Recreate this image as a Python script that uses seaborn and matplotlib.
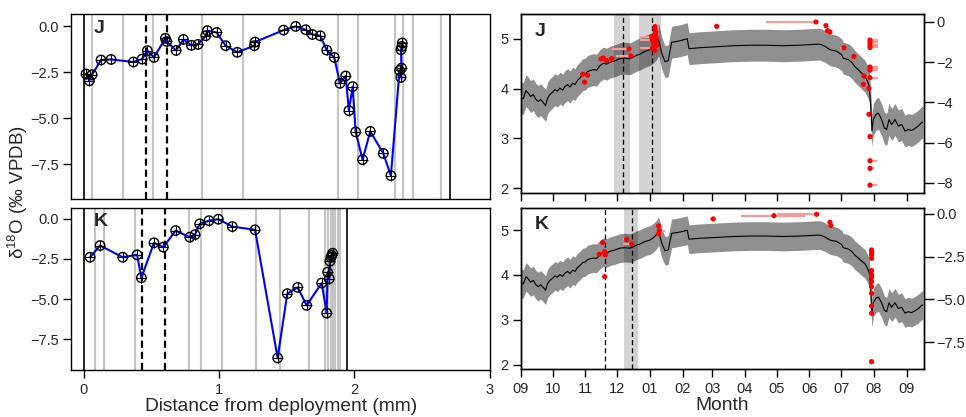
import numpy as np
import pandas as pd
import matplotlib
matplotlib.use("Agg")
import matplotlib.pyplot as plt
from matplotlib.ticker import FuncFormatter
import seaborn as sns

sns.set_style("ticks")
plt.rcParams["font.family"] = ["Liberation Sans", "DejaVu Sans"]
plt.rcParams["mathtext.fontset"] = "custom"
plt.rcParams["mathtext.rm"] = "Liberation Sans"
plt.rcParams["mathtext.default"] = "regular"

# ---------------- data: distance panels ----------------
j_dist = [0.018, 0.043, 0.063, 0.129, 0.203, 0.368, 0.432, 0.471, 0.520, 0.604, 0.614,
          0.683, 0.737, 0.796, 0.845, 0.902, 0.914, 0.983, 1.049, 1.135, 1.261, 1.266,
          1.477, 1.566, 1.640, 1.689, 1.748, 1.795, 1.851, 1.893, 1.935, 1.959, 1.987,
          2.009, 2.060, 2.117, 2.213, 2.269, 2.333, 2.343, 2.348, 2.343, 2.350, 2.353]
j_d18o = [-2.59, -2.96, -2.63, -1.83, -1.80, -1.94, -1.78, -1.32, -1.69, -0.65, -0.82,
          -1.31, -0.71, -1.03, -0.98, -0.51, -0.23, -0.33, -1.05, -1.41, -1.05, -0.85,
          -0.20, 0.00, -0.18, -0.44, -0.51, -1.29, -1.69, -3.10, -2.70, -4.59, -3.28,
          -5.75, -7.26, -5.72, -6.92, -8.13, -2.40, -2.78, -2.27, -1.27, -1.09, -0.90]
j_gray = [0.065, 0.294, 0.511, 0.872, 1.175, 1.881, 2.028, 2.299, 2.358, 2.431, 2.637]
j_dash = [0.461, 0.619]
j_end = 2.705

k_dist = [0.048, 0.122, 0.289, 0.395, 0.427, 0.520, 0.589, 0.680, 0.784, 0.823, 0.857,
          0.926, 0.995, 1.098, 1.266, 1.433, 1.504, 1.581, 1.647, 1.758, 1.795, 1.802,
          1.814, 1.819, 1.826, 1.832, 1.839]
k_d18o = [-2.39, -1.66, -2.39, -2.24, -3.67, -1.49, -1.76, -0.73, -1.14, -0.98, -0.31,
          -0.11, -0.02, -0.48, -0.68, -8.67, -4.66, -4.27, -5.39, -4.00, -5.87, -3.32,
          -3.73, -2.64, -2.40, -2.28, -2.14]
k_gray = [0.085, 0.154, 0.380, 0.776, 0.865, 1.020, 1.271, 1.450, 1.667, 1.782, 1.807,
          1.824, 1.839, 1.858, 1.876, 1.893]
k_dash = [0.432, 0.601]
k_end = 1.942

dist_ticks = [0, 1, 2, 3]
d18o_ticks = [0.0, -2.5, -5.0, -7.5]

# ---------------- data: time panels (days since 1 Sep) ----------------
curve_day = [0, 2.2, 4.7, 6.9, 9.1, 11.7, 14.2, 16.4, 18.6, 21.1, 23.3, 25.2, 27.4, 30.0,
             32.2, 34.4, 36.9, 39.4, 41.6, 44.2, 46.4, 48.9, 51.1, 53.3, 55.8, 58.4, 60.9,
             62.8, 65.3, 68.5, 71.6, 74.8, 77.9, 81.1, 84.2, 89.0, 93.7, 98.4, 103.2, 106.3,
             109.5, 112.6, 115.8, 118.9, 122.1, 125.2, 127.8, 130.3, 133.1, 136.3, 139.4,
             141.0, 142.6, 145.7, 150.5, 157.4, 159.0, 169.4, 185.2, 200.9, 216.7, 232.5,
             248.3, 264.0, 279.8, 283.0, 287.7, 292.4, 298.7, 303.5, 305.0, 309.8, 312.9,
             316.1, 319.2, 322.4, 325.5, 327.7, 329.6, 330.9, 332.2, 333.4, 336.0, 338.2,
             341.3, 343.9, 346.1, 348.3, 350.8, 354.0, 357.1, 360.3, 363.4, 366.6, 369.7,
             372.9, 376.0, 379.2, 380.3]
curve_val = [3.81, 3.80, 3.96, 3.91, 3.84, 3.88, 3.78, 3.74, 3.78, 3.72, 3.66, 3.81, 3.88,
             3.93, 3.98, 3.95, 4.01, 3.97, 4.04, 4.08, 4.03, 4.11, 4.08, 4.16, 4.21, 4.28,
             4.29, 4.34, 4.36, 4.38, 4.37, 4.46, 4.51, 4.49, 4.53, 4.56, 4.60, 4.61, 4.60,
             4.63, 4.67, 4.69, 4.73, 4.76, 4.78, 4.83, 4.89, 4.98, 4.72, 4.54, 4.56, 4.75,
             4.93, 4.94, 4.96, 5.00, 4.80, 4.82, 4.84, 4.86, 4.87, 4.87, 4.86, 4.87, 4.89,
             4.89, 4.85, 4.78, 4.75, 4.68, 4.61, 4.58, 4.53, 4.44, 4.38, 4.31, 4.25, 4.16,
             4.05, 3.68, 3.15, 3.38, 3.48, 3.51, 3.38, 3.21, 3.18, 3.38, 3.28, 3.38, 3.25,
             3.28, 3.15, 3.18, 3.16, 3.20, 3.25, 3.32, 3.33]
curve_halfwidth = 0.32

jt_day = [58.4, 60.2, 63.1, 75.7, 77.9, 81.1, 85.8, 102.2, 104.1, 123.7, 124.3, 124.3,
          125.9, 126.8, 126.8, 127.1, 127.5, 128.1, 127.5, 126.8, 128.7, 185.2, 279.2,
          288.6, 290.2, 292.4, 305.7, 315.1, 324.6, 324.0, 329.3, 329.3, 330.3, 330.3,
          330.3, 330.3, 330.3, 330.3, 330.3, 330.3, 330.3, 330.3, 330.3, 330.3]
jt_val = [-2.60, -2.99, -2.65, -1.84, -1.79, -1.92, -1.82, -1.34, -1.69, -0.73, -0.90,
          -1.31, -1.13, -0.23, -0.35, -0.48, -0.61, -0.81, -0.99, -1.42, -1.16, -0.22,
          0.00, -0.18, -0.43, -0.50, -1.28, -1.72, -2.69, -3.10, -3.30, -4.59, -5.70,
          -0.90, -1.02, -1.16, -1.27, -2.24, -2.32, -2.40, -2.77, -6.90, -7.28, -8.11]
jt_err_lo = [0, 0, 0, 0, 0, 0, 0, 15.8, 14.2, 11.7, 12.0, 12.0, 0, 0, 0, 0, 0, 0, 0, 0,
             0, 0, 47.3, 0, 0, 0, 3.8, 0, 0, 0, 0, 0, 0, 0, 0, 0, 0, 0, 0, 0, 0, 0, 0, 0]
jt_err_hi = [0, 0, 0, 0, 0, 0, 0, 0, 0, 0, 3, 0, 3, 4, 4, 3, 3, 2, 2, 0, 0, 0, 0, 0, 0,
             2, 0, 0, 0, 0, 0, 0, 2, 7.9, 7.9, 7.9, 7.9, 7.9, 7.9, 7.9, 7.9, 6.3, 4.0, 6.3]

kt_day = [74.1, 77.3, 79.2, 79.5, 79.8, 79.2, 100.0, 104.7, 130.3, 130.9, 130.3, 182.0,
          239.4, 279.8, 292.4, 293.3, 331.8, 331.8, 331.8, 331.8, 331.8, 331.8, 331.8,
          331.8, 331.8, 331.8, 331.8, 331.8, 331.8, 331.8]
kt_val = [-2.36, -1.68, -2.21, -2.30, -2.40, -3.67, -1.48, -1.76, -0.70, -0.98, -1.17,
          -0.29, -0.10, -0.02, -0.49, -0.68, -2.11, -2.21, -2.30, -2.40, -2.60, -3.32,
          -3.57, -3.71, -3.96, -4.26, -4.65, -5.39, -5.82, -8.65]
kt_err_lo = [0, 0, 0, 0, 0, 0, 3.8, 7.9, 0, 0, 0, 3.2, 30.9, 37.9, 0, 0, 0, 0, 0, 0, 0,
             0, 0, 0, 0, 0, 0, 0, 0, 0]
kt_err_hi = [0, 0, 0, 0, 0, 0, 0, 0, 0, 5.4, 0, 0, 29.3, 0, 0, 0, 0, 0, 0, 0, 0, 0, 0,
             0, 0, 0, 0, 0, 0, 0]

j_spans = [(88.0, 102.9), (112.0, 132.5)]
j_tdash = [96.2, 124.3]
k_spans = [(97.5, 110.4)]
k_tdash = [79.5, 104.7]

month_starts = pd.date_range("2013-09-01", "2014-09-01", freq="MS")
month_day = [(m - month_starts[0]).days for m in month_starts]
month_lab = [m.strftime("%m") for m in month_starts]

left_ticks = [2, 3, 4, 5]
jt_ticks = [0, -2, -4, -6, -8]
kt_ticks = [0.0, -2.5, -5.0, -7.5]

# ---------------- figure ----------------
fig = plt.figure(figsize=(9.66, 4.17), dpi=100)
axJ = fig.add_axes([0.0740, 0.5221, 0.4337, 0.4436])
axK = fig.add_axes([0.0740, 0.1127, 0.4337, 0.3878])
axJt = fig.add_axes([0.5393, 0.5364, 0.4172, 0.4293])
axKt = fig.add_axes([0.5393, 0.1151, 0.4172, 0.3854])

minus = lambda s: s.replace("-", "\u2212")
fmt1 = FuncFormatter(lambda v, p: minus(f"{v:.1f}"))
fmt0 = FuncFormatter(lambda v, p: minus(f"{v:.0f}"))

TICK = 10.5


def style_spines(ax):
    for s in ax.spines.values():
        s.set_color("black")
        s.set_linewidth(1.0)
        s.set_visible(True)


def left_panel(ax, dist, vals, gray, dash, end, label, show_x):
    for g in gray:
        ax.axvline(g, color="#c4c4c4", lw=1.5, zorder=0)
    ax.axvline(0, color="black", lw=1.2, zorder=1)
    ax.axvline(end, color="black", lw=1.2, zorder=1)
    for d in dash:
        ax.axvline(d, color="black", lw=1.6, ls=(0, (3.2, 1.8)), zorder=1)
    df = pd.DataFrame({"dist": dist, "d18o": vals})
    sns.lineplot(data=df, x="dist", y="d18o", sort=False, estimator=None,
                 color="blue", lw=1.5, ax=ax, zorder=2)
    ax.scatter(df["dist"], df["d18o"], s=46, facecolors="none", edgecolors="black",
               linewidths=1.0, zorder=3)
    ax.scatter(df["dist"], df["d18o"], s=46, marker="+", color="black",
               linewidths=0.8, zorder=3)
    ax.set_xlim(-0.089, 3.004)
    ax.set_ylim(-9.42, 0.66)
    ax.set_yticks(d18o_ticks)
    ax.yaxis.set_major_formatter(fmt1)
    ax.set_xticks(dist_ticks)
    ax.set_xlabel("")
    ax.set_ylabel("")
    ax.tick_params(axis="both", direction="out", length=6, width=1, labelsize=TICK,
                   color="black", pad=3)
    if not show_x:
        ax.tick_params(axis="x", bottom=False, labelbottom=False)
    ax.text(0.052, 0.968, label, transform=ax.transAxes, fontsize=14,
            fontweight="bold", va="top", ha="left")
    style_spines(ax)


def time_panel(ax, spans, tdash, t, v, lo, hi, rlim, rticks, rfmt, label, show_x):
    for a, b in spans:
        ax.axvspan(a, b, color="#d3d3d3", lw=0, zorder=0)
    cd = np.array(curve_day)
    cv = np.array(curve_val)
    ax.fill_between(cd, cv - curve_halfwidth, cv + curve_halfwidth, color="black",
                    alpha=0.44, lw=0, zorder=1)
    sns.lineplot(x=cd, y=cv, estimator=None, sort=False, color="black", lw=0.8,
                 ax=ax, zorder=2)
    for d in tdash:
        ax.axvline(d, color="black", lw=0.9, ls=(0, (4, 2.5)), zorder=3)
    ax.set_xlim(0, 381.4)
    ax.set_ylim(1.90, 5.49)
    ax.set_yticks(left_ticks)
    ax.set_xticks(month_day)
    ax.set_xticklabels(month_lab)
    ax.tick_params(axis="both", direction="out", length=6, width=1, labelsize=TICK,
                   color="black", pad=3)
    if not show_x:
        ax.tick_params(axis="x", labelbottom=False)
    style_spines(ax)
    ax.text(0.035, 0.95, label, transform=ax.transAxes, fontsize=14,
            fontweight="bold", va="top", ha="left", zorder=6)

    ax2 = ax.twinx()
    ax2.errorbar(t, v, xerr=[lo, hi], fmt="none", ecolor="#f39c9c",
                 elinewidth=1.6, capsize=0, zorder=4)
    sns.scatterplot(x=t, y=v, color="red", s=14, edgecolor="none", ax=ax2, zorder=5,
                    legend=False)
    ax2.set_ylim(*rlim)
    ax2.set_yticks(rticks)
    ax2.yaxis.set_major_formatter(rfmt)
    ax2.set_ylabel("")
    ax2.tick_params(axis="y", direction="out", length=7, width=1, labelsize=TICK,
                    color="black", pad=2)
    style_spines(ax2)
    return ax2


left_panel(axJ, j_dist, j_d18o, j_gray, j_dash, j_end, "J", False)
left_panel(axK, k_dist, k_d18o, k_gray, k_dash, k_end, "K", True)
axK.set_xlabel("Distance from deployment (mm)", fontsize=13.8, labelpad=1)

time_panel(axJt, j_spans, j_tdash, jt_day, jt_val, jt_err_lo, jt_err_hi,
           (-8.52, 0.38), jt_ticks, fmt0, "J", False)
time_panel(axKt, k_spans, k_tdash, kt_day, kt_val, kt_err_lo, kt_err_hi,
           (-9.08, 0.33), kt_ticks, fmt1, "K", True)
axKt.set_xlabel("Month", fontsize=13.8, labelpad=1)

fig.text(0.019, 1 - 192 / 417, r"δ$^{18}$O (‰ VPDB)", rotation=90, va="center",
         ha="center", fontsize=13.5)

fig.savefig("out.png", dpi=100)
